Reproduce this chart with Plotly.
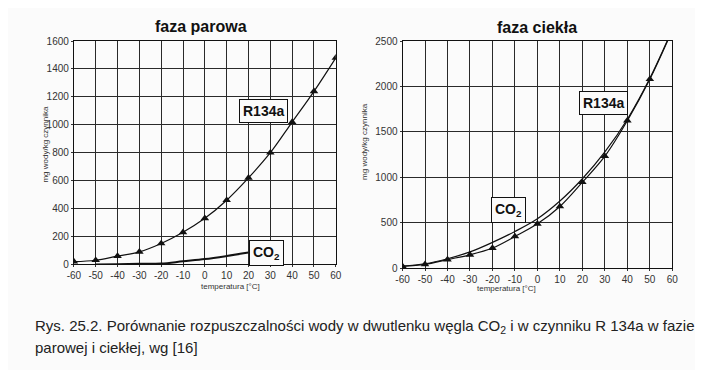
import plotly.graph_objects as go

temps = [-60, -50, -40, -30, -20, -10, 0, 10, 20, 30, 40, 50, 60]
xtick_labels = ["-60", "-50", "-40", "-30", "-20", "-10", "0", "10", "20", "30", "40", "50", "60"]

# faza parowa (vapour phase)
vap_r134a = [20, 30, 60, 90, 150, 230, 330, 460, 620, 800, 1020, 1240, 1480]
vap_co2_t = [-50, -40, -30, -20, -10, 0, 10, 20]
vap_co2 = [0, 2, 4, 6, 22, 38, 60, 85]

# faza ciekła (liquid phase)
liq_r134a_t = [-60, -50, -40, -30, -20, -10, 0, 10, 20, 30, 40, 50, 60]
liq_r134a = [21, 43, 96, 148, 223, 350, 489, 680, 947, 1234, 1625, 2080, 2620]
liq_r134a_marker_t = [-60, -50, -40, -30, -20, -10, 0, 10, 20, 30, 40, 50]
liq_r134a_marker = [21, 43, 96, 148, 223, 350, 489, 680, 947, 1234, 1625, 2080]
liq_co2 = [25, 50, 105, 180, 285, 405, 545, 740, 985, 1280, 1640, 2090, 2630]

vap_yticks = [0, 200, 400, 600, 800, 1000, 1200, 1400, 1600]
liq_yticks = [0, 500, 1000, 1500, 2000, 2500]

OFF = 8  # page body margin
W, H = 703 - 2 * OFF, 378 - 2 * OFF
def px(x):
    return (x - OFF) / W
def py(y):
    return 1 - (y - OFF) / H

fig = go.Figure()

# left chart
fig.add_trace(go.Scatter(x=temps, y=vap_r134a, mode="lines+markers",
                         line=dict(color="#111", width=1.2, shape="spline"),
                         marker=dict(symbol="triangle-up", size=7.5, color="#111"),
                         xaxis="x", yaxis="y", showlegend=False))
fig.add_trace(go.Scatter(x=vap_co2_t, y=vap_co2, mode="lines",
                         line=dict(color="#111", width=2, shape="spline"),
                         xaxis="x", yaxis="y", showlegend=False))

# right chart
fig.add_trace(go.Scatter(x=temps, y=liq_co2, mode="lines",
                         line=dict(color="#111", width=1.2, shape="spline"),
                         xaxis="x2", yaxis="y2", showlegend=False))
fig.add_trace(go.Scatter(x=liq_r134a_t, y=liq_r134a, mode="lines",
                         line=dict(color="#111", width=1.2, shape="spline"),
                         xaxis="x2", yaxis="y2", showlegend=False))
fig.add_trace(go.Scatter(x=liq_r134a_marker_t, y=liq_r134a_marker, mode="markers",
                         marker=dict(symbol="triangle-up", size=7.5, color="#111"),
                         xaxis="x2", yaxis="y2", showlegend=False))

tickfont = dict(family="Liberation Sans, Arial", size=10, color="#333")
grid = dict(showgrid=True, gridcolor="#2a2a2a", gridwidth=1, zeroline=False,
            showline=True, linecolor="#111", linewidth=1, mirror=True,
            ticks="outside", ticklen=2, tickcolor="#333", tickfont=tickfont)

fig.update_layout(
    width=W, height=H,
    margin=dict(l=0, r=0, t=0, b=0),
    paper_bgcolor="#fbfbfb", plot_bgcolor="#fbfbfb",
    xaxis=dict(domain=[px(68), px(335)], range=[-60, 60], tickvals=temps,
               ticktext=xtick_labels, anchor="y", **grid),
    yaxis=dict(domain=[py(267), py(36)], range=[0, 1600], tickvals=vap_yticks,
               anchor="x", **grid),
    xaxis2=dict(domain=[px(403), px(678)], range=[-60, 60], tickvals=temps,
                ticktext=xtick_labels, anchor="y2", **grid),
    yaxis2=dict(domain=[py(271), py(36)], range=[0, 2500], tickvals=liq_yticks,
                anchor="x2", **grid),
)

ann = []
title_font = dict(family="Liberation Sans, Arial", size=16, color="#111")
ann.append(dict(text="<b>faza parowa</b>", x=px(198), y=py(21), xref="paper", yref="paper",
                showarrow=False, font=title_font, xanchor="center", yanchor="middle"))
ann.append(dict(text="<b>faza ciekła</b>", x=px(540), y=py(22), xref="paper", yref="paper",
                showarrow=False, font=title_font, xanchor="center", yanchor="middle"))

small = dict(family="Liberation Sans, Arial", size=8, color="#333")
ann.append(dict(text="mg wody/kg czynnika", x=px(32), y=py(143), xref="paper", yref="paper",
                showarrow=False, font=small, textangle=-90))
ann.append(dict(text="mg wody/kg czynnika", x=px(364), y=py(140), xref="paper", yref="paper",
                showarrow=False, font=small, textangle=-90))
ann.append(dict(text="temperatura [°C]", x=px(197), y=py(296), xref="paper", yref="paper",
                showarrow=False, font=small, borderpad=0))
ann.append(dict(text="temperatura [°C]", x=px(540), y=py(298), xref="paper", yref="paper",
                showarrow=False, font=small, borderpad=0))

box_font = dict(family="Liberation Sans, Arial", size=14, color="#111")
box = dict(showarrow=False, font=box_font, bordercolor="#111", borderwidth=1,
           bgcolor="#fbfbfb", borderpad=3)
ann.append(dict(text="<b>R134a</b>", x=27, y=1100, xref="x", yref="y", **box))
ann.append(dict(text="<b>CO<sub>2</sub></b>", x=20.3, y=80, xref="x", yref="y",
                xanchor="left", **box))
ann.append(dict(text="<b>R134a</b>", x=29.5, y=1820, xref="x2", yref="y2", **box))
ann.append(dict(text="<b>CO<sub>2</sub></b>", x=-12.8, y=640, xref="x2", yref="y2", **box))

cap_font = dict(family="Liberation Sans, Arial", size=15, color="#222")
ann.append(dict(text="Rys. 25.2. Porównanie rozpuszczalności wody w dwutlenku węgla CO<sub>2</sub> i w czynniku R 134a w fazie",
                x=px(26), y=py(331), xref="paper", yref="paper", showarrow=False,
                font=cap_font, xanchor="left", yanchor="middle"))
ann.append(dict(text="parowej i ciekłej, wg [16]",
                x=px(26), y=py(353), xref="paper", yref="paper", showarrow=False,
                font=cap_font, xanchor="left", yanchor="middle"))

fig.update_layout(annotations=ann)
fig.write_html("out.html")
